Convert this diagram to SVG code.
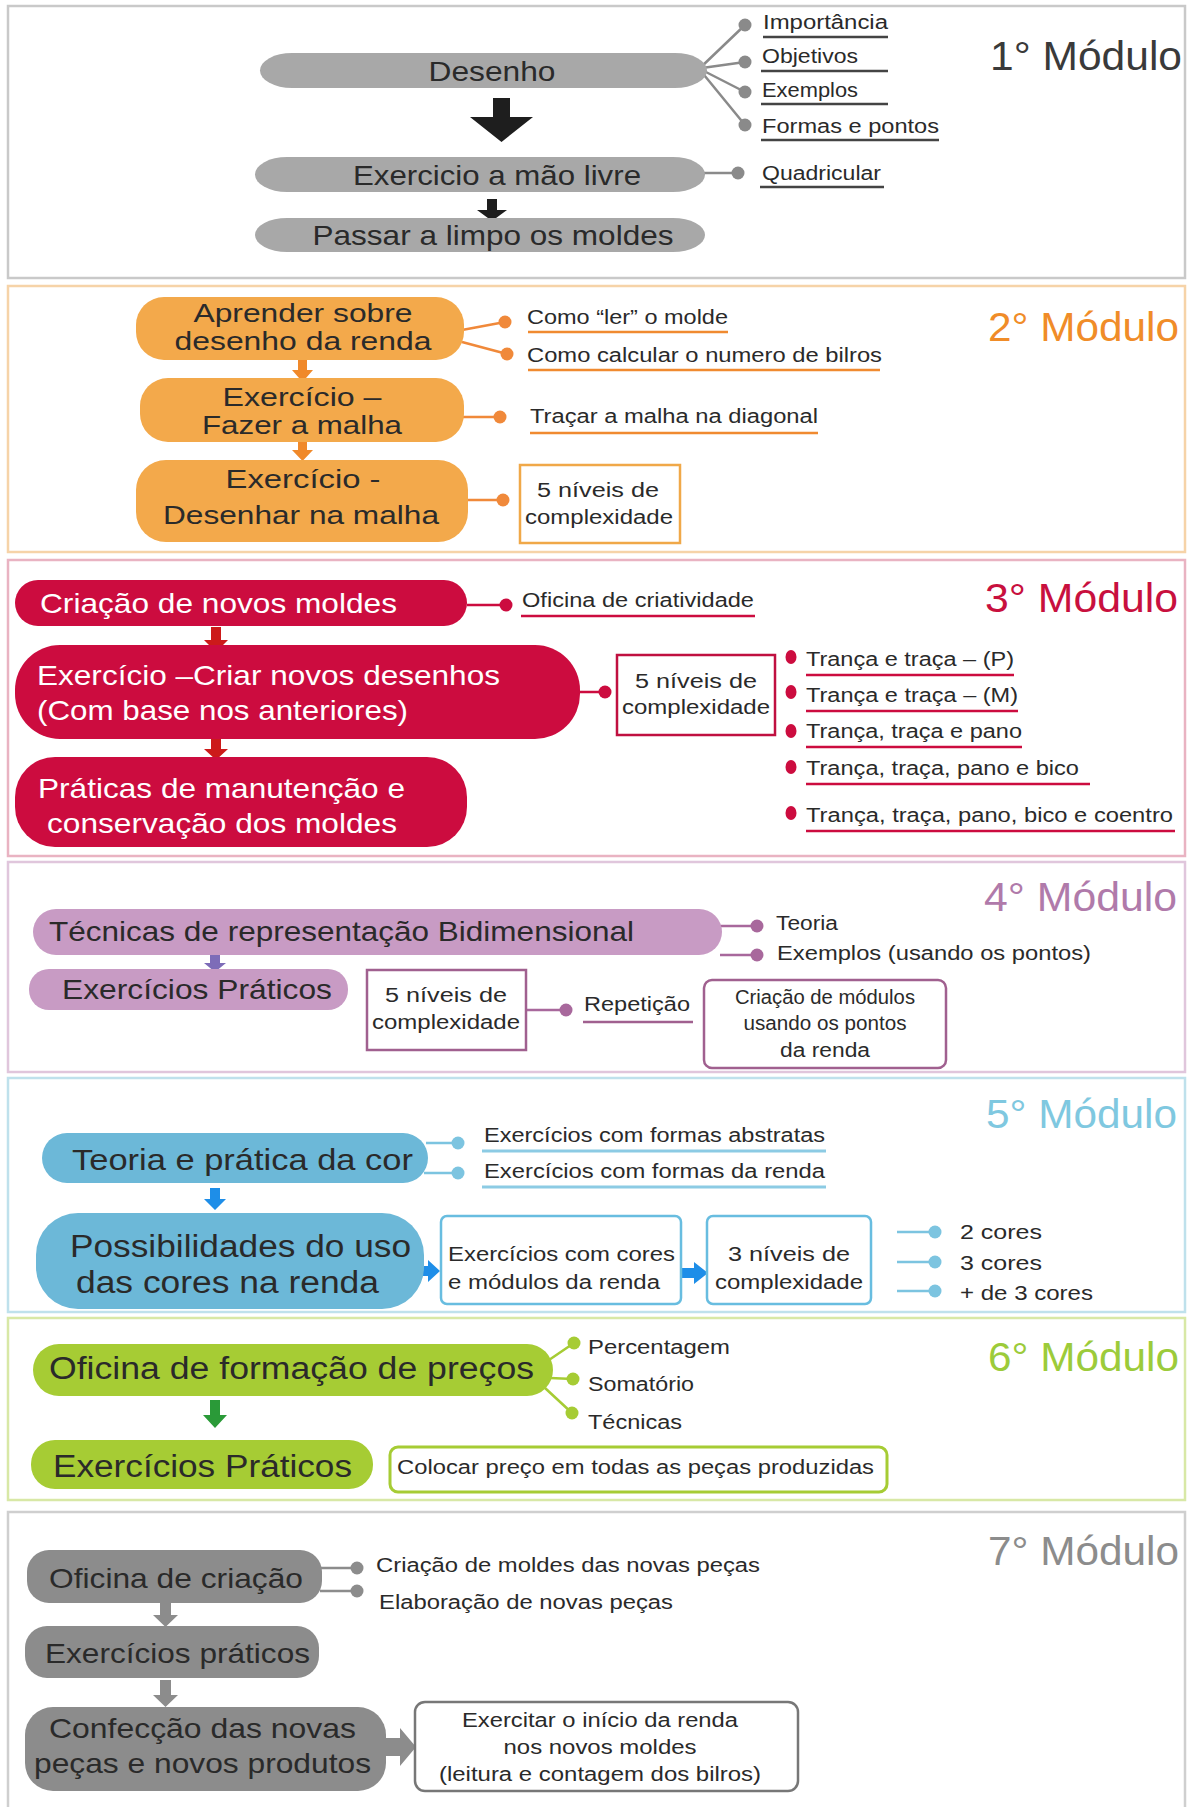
<svg xmlns="http://www.w3.org/2000/svg" width="1187" height="1807" viewBox="0 0 1187 1807">
<style>
text{font-family:"Liberation Sans",Arial,sans-serif;fill:#2a2a2a}
.pn{fill:#fff;stroke-width:2.5}
.big{font-size:28px}
.lab{font-size:20px}
.ttl{font-size:40px}
.c1{stroke:#8a8a8a;stroke-width:2.5;fill:none}
.d1{fill:#8a8a8a}
.c2{stroke:#f0893a;stroke-width:2.5;fill:none}
.d2{fill:#f0893a}
.c3{stroke:#cc0c3f;stroke-width:2.5;fill:none}
.d3{fill:#cc0c3f}
.c4{stroke:#a8689c;stroke-width:2.5;fill:none}
.d4{fill:#a8689c}
.c5{stroke:#7cc4e0;stroke-width:2.5;fill:none}
.d5{fill:#7cc4e0}
.c6{stroke:#a6cc34;stroke-width:2.5;fill:none}
.d6{fill:#a6cc34}
.c7{stroke:#8c8c8c;stroke-width:2.5;fill:none}
.d7{fill:#8c8c8c}
</style>

<!-- Panels -->
<g id="panels">
<rect class="pn" x="8" y="6" width="1177" height="272" stroke="#c9c9c9"/>
<rect class="pn" x="8" y="286" width="1177" height="266" stroke="#f6d3a8"/>
<rect class="pn" x="8" y="560" width="1177" height="296" stroke="#e9b3c2"/>
<rect class="pn" x="8" y="862" width="1177" height="210" stroke="#e0c6dc"/>
<rect class="pn" x="8" y="1078" width="1177" height="234" stroke="#bfe1ec"/>
<rect class="pn" x="8" y="1318" width="1177" height="182" stroke="#d8e8a6"/>
<rect class="pn" x="8" y="1512" width="1177" height="300" stroke="#cfcfcf"/>
</g>

<!-- Connectors -->
<g id="connectors">
<!-- Module 1 -->
<path class="c1" d="M700 68 L745 25 M702 68 L745 62 M702 70 L745 92 M700 70 L745 125 M704 173 L738 173"/>
<circle class="d1" cx="745" cy="25" r="6.5"/><circle class="d1" cx="745" cy="62" r="6.5"/>
<circle class="d1" cx="745" cy="92" r="6.5"/><circle class="d1" cx="745" cy="125" r="6.5"/>
<circle class="d1" cx="738" cy="173" r="6.5"/>
<polygon fill="#1e1e1e" points="493,98 510,98 510,117 533,117 501.5,142 470,117 493,117"/>
<polygon fill="#1e1e1e" points="487,199 497,199 497,210 507,210 492,221 477,210 487,210"/>
<!-- Module 2 -->
<path class="c2" d="M462 330 L505 322 M462 342 L507 354 M463 417 L500 417 M463 500 L503 500"/>
<circle class="d2" cx="505" cy="322" r="6.5"/><circle class="d2" cx="507" cy="354" r="6.5"/>
<circle class="d2" cx="500" cy="417" r="6.5"/><circle class="d2" cx="503" cy="500" r="6.5"/>
<polygon fill="#f0892a" points="298,359 307,359 307,370 313,370 302.5,382 292,370 298,370"/>
<polygon fill="#f0892a" points="298,440 307,440 307,450 313,450 302.5,461 292,450 298,450"/>
<!-- Module 3 -->
<path class="c3" d="M467 605 L506 605 M579 692 L605 692"/>
<circle class="d3" cx="506" cy="605" r="6.5"/><circle class="d3" cx="605" cy="692" r="6.5"/>
<ellipse class="d3" cx="791" cy="657" rx="5.5" ry="7"/><ellipse class="d3" cx="791" cy="692" rx="5.5" ry="7"/>
<ellipse class="d3" cx="791" cy="731" rx="5.5" ry="7"/><ellipse class="d3" cx="791" cy="767" rx="5.5" ry="7"/>
<ellipse class="d3" cx="791" cy="813" rx="5.5" ry="7"/>
<polygon fill="#cc1a1a" points="211,627 221,627 221,640 228,640 216,652 204,640 211,640"/>
<polygon fill="#cc1a1a" points="211,738 221,738 221,749 228,749 216,760 204,749 211,749"/>
<!-- Module 4 -->
<path class="c4" d="M718 926 L757 926 M720 955 L757 955 M526 1010 L566 1010"/>
<circle class="d4" cx="757" cy="926" r="6.5"/><circle class="d4" cx="757" cy="955" r="6.5"/>
<circle class="d4" cx="566" cy="1010" r="6.5"/>
<polygon fill="#7d6cb8" points="210,954 220,954 220,963 226,963 215,972 204,963 210,963"/>
<!-- Module 5 -->
<path class="c5" d="M426 1143 L458 1143 M424 1173 L458 1173 M897 1232 L935 1232 M897 1262 L935 1262 M897 1291 L935 1291"/>
<circle class="d5" cx="458" cy="1143" r="6.5"/><circle class="d5" cx="458" cy="1173" r="6.5"/>
<circle class="d5" cx="935" cy="1232" r="6.5"/><circle class="d5" cx="935" cy="1262" r="6.5"/>
<circle class="d5" cx="935" cy="1291" r="6.5"/>
<polygon fill="#1e8ee8" points="210,1188 220,1188 220,1199 226,1199 215,1210 204,1199 210,1199"/>
<polygon fill="#1e8ee8" points="416,1266 428,1266 428,1260 440,1271 428,1282 428,1276 416,1276"/>
<polygon fill="#1e8ee8" points="682,1268 694,1268 694,1262 708,1273 694,1284 694,1278 682,1278"/>
<!-- Module 6 -->
<path class="c6" d="M546 1362 L574 1343 M550 1378 L573 1379 M545 1388 L572 1413"/>
<circle class="d6" cx="574" cy="1343" r="6.5"/><circle class="d6" cx="573" cy="1379" r="6.5"/>
<circle class="d6" cx="572" cy="1413" r="6.5"/>
<polygon fill="#2a9a38" points="210,1400 220,1400 220,1415 227,1415 215,1428 203,1415 210,1415"/>
<!-- Module 7 -->
<path class="c7" d="M320 1568 L357 1568 M320 1591 L357 1591"/>
<circle class="d7" cx="357" cy="1568" r="6.5"/><circle class="d7" cx="357" cy="1591" r="6.5"/>
<polygon fill="#8c8c8c" points="160,1601 171,1601 171,1615 178,1615 165.5,1627 153,1615 160,1615"/>
<polygon fill="#8c8c8c" points="160,1680 171,1680 171,1695 178,1695 165.5,1707 153,1695 160,1695"/>
<polygon fill="#8c8c8c" points="384,1738 400,1738 400,1728 416,1747 400,1766 400,1756 384,1756"/>
</g>

<!-- Module 1 -->
<g id="m1-title"><text class="ttl" x="990" y="70" textLength="192" lengthAdjust="spacingAndGlyphs" style="fill:#3a3a3a">1° Módulo</text></g>
<g id="m1-desenho">
<rect x="260" y="53" width="447" height="35" rx="32" ry="17.5" fill="#a8a8a8"/>
<text class="big" x="492" y="81" text-anchor="middle" textLength="127" lengthAdjust="spacingAndGlyphs">Desenho</text>
</g>
<g id="m1-exercicio">
<rect x="255" y="157" width="450" height="35" rx="32" ry="17.5" fill="#a8a8a8"/>
<text class="big" x="497" y="185" text-anchor="middle" textLength="288" lengthAdjust="spacingAndGlyphs">Exercicio a mão livre</text>
</g>
<g id="m1-passar">
<rect x="255" y="218" width="450" height="34" rx="32" ry="17" fill="#a8a8a8"/>
<text class="big" x="493" y="245" text-anchor="middle" textLength="361" lengthAdjust="spacingAndGlyphs">Passar a limpo os moldes</text>
</g>
<g id="m1-labels">
<text class="lab" x="763" y="29" textLength="125" lengthAdjust="spacingAndGlyphs">Importância</text>
<text class="lab" x="762" y="63" textLength="96" lengthAdjust="spacingAndGlyphs">Objetivos</text>
<text class="lab" x="762" y="97" textLength="96" lengthAdjust="spacingAndGlyphs">Exemplos</text>
<text class="lab" x="762" y="133" textLength="177" lengthAdjust="spacingAndGlyphs">Formas e pontos</text>
<text class="lab" x="762" y="180" textLength="119" lengthAdjust="spacingAndGlyphs">Quadricular</text>
<path stroke="#444" stroke-width="2.5" d="M763 37 H888 M761 71 H888 M761 104 H888 M761 140 H939 M760 187 H884"/>
</g>

<!-- Module 2 -->
<g id="m2-title"><text class="ttl" x="988" y="341" textLength="191" lengthAdjust="spacingAndGlyphs" style="fill:#f08c28">2° Módulo</text></g>
<g id="m2-aprender">
<rect x="136" y="297" width="328" height="63" rx="28" fill="#f3a94b"/>
<text x="303" y="322" font-size="26" text-anchor="middle" textLength="219" lengthAdjust="spacingAndGlyphs">Aprender sobre</text>
<text x="303" y="350" font-size="26" text-anchor="middle" textLength="257" lengthAdjust="spacingAndGlyphs">desenho da renda</text>
</g>
<g id="m2-fazer">
<rect x="140" y="378" width="324" height="64" rx="28" fill="#f3a94b"/>
<text x="302" y="406" font-size="26" text-anchor="middle" textLength="159" lengthAdjust="spacingAndGlyphs">Exercício –</text>
<text x="302" y="434" font-size="26" text-anchor="middle" textLength="200" lengthAdjust="spacingAndGlyphs">Fazer a malha</text>
</g>
<g id="m2-desenhar">
<rect x="136" y="460" width="332" height="82" rx="30" fill="#f3a94b"/>
<text x="303" y="488" font-size="26" text-anchor="middle" textLength="155" lengthAdjust="spacingAndGlyphs">Exercício -</text>
<text x="301" y="524" font-size="26" text-anchor="middle" textLength="276" lengthAdjust="spacingAndGlyphs">Desenhar na malha</text>
</g>
<g id="m2-labels">
<text class="lab" x="527" y="324" textLength="201" lengthAdjust="spacingAndGlyphs">Como “ler” o molde</text>
<text class="lab" x="527" y="362" textLength="355" lengthAdjust="spacingAndGlyphs">Como calcular o numero de bilros</text>
<text class="lab" x="530" y="423" textLength="288" lengthAdjust="spacingAndGlyphs">Traçar a malha na diagonal</text>
<path stroke="#f08a30" stroke-width="2.5" d="M528 332 H728 M528 370 H880 M530 433 H818"/>
</g>
<g id="m2-niveis">
<rect x="520" y="465" width="160" height="78" fill="#fff" stroke="#f0a848" stroke-width="2.5"/>
<text class="lab" x="598" y="497" text-anchor="middle" textLength="122" lengthAdjust="spacingAndGlyphs">5 níveis  de</text>
<text class="lab" x="599" y="524" text-anchor="middle" textLength="148" lengthAdjust="spacingAndGlyphs">complexidade</text>
</g>

<!-- Module 3 -->
<g id="m3-title"><text class="ttl" x="985" y="612" textLength="193" lengthAdjust="spacingAndGlyphs" style="fill:#c8103e">3° Módulo</text></g>
<g id="m3-criacao">
<rect x="15" y="580" width="452" height="46" rx="23" fill="#cc0c3f"/>
<text class="big" x="40" y="613" textLength="357" lengthAdjust="spacingAndGlyphs" style="fill:#fff">Criação de novos moldes</text>
</g>
<g id="m3-exercicio">
<rect x="15" y="645" width="565" height="94" rx="45" fill="#cc0c3f"/>
<text class="big" x="37" y="685" textLength="463" lengthAdjust="spacingAndGlyphs" style="fill:#fff">Exercício –Criar novos desenhos</text>
<text class="big" x="37" y="720" textLength="371" lengthAdjust="spacingAndGlyphs" style="fill:#fff">(Com base nos anteriores)</text>
</g>
<g id="m3-praticas">
<rect x="15" y="757" width="452" height="90" rx="40" fill="#cc0c3f"/>
<text class="big" x="38" y="798" textLength="367" lengthAdjust="spacingAndGlyphs" style="fill:#fff">Práticas de manutenção e</text>
<text class="big" x="47" y="833" textLength="350" lengthAdjust="spacingAndGlyphs" style="fill:#fff">conservação dos moldes</text>
</g>
<g id="m3-oficina">
<text class="lab" x="522" y="607" textLength="232" lengthAdjust="spacingAndGlyphs">Oficina de criatividade</text>
<path stroke="#cc0c3f" stroke-width="2.5" d="M521 616 H755"/>
</g>
<g id="m3-niveis">
<rect x="617" y="655" width="158" height="80" fill="#fff" stroke="#c01040" stroke-width="2.5"/>
<text class="lab" x="696" y="688" text-anchor="middle" textLength="122" lengthAdjust="spacingAndGlyphs">5 níveis  de</text>
<text class="lab" x="696" y="714" text-anchor="middle" textLength="148" lengthAdjust="spacingAndGlyphs">complexidade</text>
</g>
<g id="m3-list">
<text class="lab" x="806" y="666" textLength="208" lengthAdjust="spacingAndGlyphs">Trança e traça – (P)</text>
<text class="lab" x="806" y="702" textLength="212" lengthAdjust="spacingAndGlyphs">Trança e traça – (M)</text>
<text class="lab" x="806" y="738" textLength="216" lengthAdjust="spacingAndGlyphs">Trança, traça e pano</text>
<text class="lab" x="806" y="775" textLength="273" lengthAdjust="spacingAndGlyphs">Trança, traça, pano e bico</text>
<text class="lab" x="806" y="822" textLength="367" lengthAdjust="spacingAndGlyphs">Trança, traça, pano, bico e coentro</text>
<path stroke="#cc0c3f" stroke-width="2.5" d="M806 675 H1014 M806 711 H1018 M806 747 H1022 M806 784 H1090 M806 831 H1175"/>
</g>

<!-- Module 4 -->
<g id="m4-title"><text class="ttl" x="984" y="911" textLength="193" lengthAdjust="spacingAndGlyphs" style="fill:#b07aaa">4° Módulo</text></g>
<g id="m4-tecnicas">
<rect x="33" y="909" width="689" height="46" rx="23" fill="#c89bc4"/>
<text class="big" x="49" y="941" textLength="585" lengthAdjust="spacingAndGlyphs">Técnicas de representação Bidimensional</text>
</g>
<g id="m4-exercicios">
<rect x="29" y="969" width="319" height="41" rx="20" fill="#c89bc4"/>
<text class="big" x="62" y="999" textLength="270" lengthAdjust="spacingAndGlyphs">Exercícios Práticos</text>
</g>
<g id="m4-labels">
<text class="lab" x="776" y="930" textLength="62" lengthAdjust="spacingAndGlyphs">Teoria</text>
<text class="lab" x="777" y="960" textLength="314" lengthAdjust="spacingAndGlyphs">Exemplos (usando os pontos)</text>
</g>
<g id="m4-niveis">
<rect x="367" y="970" width="159" height="80" fill="#fff" stroke="#a0608f" stroke-width="2.5"/>
<text class="lab" x="446" y="1002" text-anchor="middle" textLength="122" lengthAdjust="spacingAndGlyphs">5 níveis  de</text>
<text class="lab" x="446" y="1029" text-anchor="middle" textLength="148" lengthAdjust="spacingAndGlyphs">complexidade</text>
</g>
<g id="m4-repeticao">
<text class="lab" x="584" y="1011" textLength="106" lengthAdjust="spacingAndGlyphs">Repetição</text>
<path stroke="#a0608f" stroke-width="2.5" d="M583 1022 H693"/>
</g>
<g id="m4-criacao">
<rect x="704" y="980" width="242" height="88" rx="8" fill="#fff" stroke="#a0608f" stroke-width="2.5"/>
<text class="lab" x="825" y="1004" text-anchor="middle" textLength="180" lengthAdjust="spacingAndGlyphs">Criação de módulos</text>
<text class="lab" x="825" y="1030" text-anchor="middle" textLength="163" lengthAdjust="spacingAndGlyphs">usando os pontos</text>
<text class="lab" x="825" y="1057" text-anchor="middle" textLength="90" lengthAdjust="spacingAndGlyphs">da renda</text>
</g>

<!-- Module 5 -->
<g id="m5-title"><text class="ttl" x="986" y="1128" textLength="191" lengthAdjust="spacingAndGlyphs" style="fill:#7fc8e0">5° Módulo</text></g>
<g id="m5-teoria">
<rect x="42" y="1133" width="386" height="50" rx="25" fill="#6cb8d8"/>
<text x="72" y="1170" font-size="29" textLength="341" lengthAdjust="spacingAndGlyphs">Teoria e prática da cor</text>
</g>
<g id="m5-possibilidades">
<rect x="36" y="1213" width="388" height="96" rx="42" fill="#6cb8d8"/>
<text x="70" y="1257" font-size="31" textLength="341" lengthAdjust="spacingAndGlyphs">Possibilidades do uso</text>
<text x="76" y="1293" font-size="31" textLength="303" lengthAdjust="spacingAndGlyphs">das cores na renda</text>
</g>
<g id="m5-labels">
<text class="lab" x="484" y="1142" textLength="341" lengthAdjust="spacingAndGlyphs">Exercícios com formas abstratas</text>
<text class="lab" x="484" y="1178" textLength="341" lengthAdjust="spacingAndGlyphs">Exercícios com formas da renda</text>
<path stroke="#8ccbe4" stroke-width="3" d="M482 1151 H826 M482 1187 H826"/>
</g>
<g id="m5-cores">
<rect x="441" y="1216" width="240" height="88" rx="6" fill="#fff" stroke="#68bde0" stroke-width="2.5"/>
<text class="lab" x="448" y="1261" textLength="227" lengthAdjust="spacingAndGlyphs">Exercícios com cores</text>
<text class="lab" x="448" y="1289" textLength="212" lengthAdjust="spacingAndGlyphs">e módulos da renda</text>
</g>
<g id="m5-niveis">
<rect x="707" y="1216" width="164" height="88" rx="6" fill="#fff" stroke="#68bde0" stroke-width="2.5"/>
<text class="lab" x="789" y="1261" text-anchor="middle" textLength="122" lengthAdjust="spacingAndGlyphs">3 níveis  de</text>
<text class="lab" x="789" y="1289" text-anchor="middle" textLength="148" lengthAdjust="spacingAndGlyphs">complexidade</text>
</g>
<g id="m5-list">
<text class="lab" x="960" y="1239" textLength="82" lengthAdjust="spacingAndGlyphs">2 cores</text>
<text class="lab" x="960" y="1270" textLength="82" lengthAdjust="spacingAndGlyphs">3 cores</text>
<text class="lab" x="960" y="1300" textLength="133" lengthAdjust="spacingAndGlyphs">+ de 3 cores</text>
</g>

<!-- Module 6 -->
<g id="m6-title"><text class="ttl" x="988" y="1371" textLength="191" lengthAdjust="spacingAndGlyphs" style="fill:#9ccb3a">6° Módulo</text></g>
<g id="m6-oficina">
<rect x="33" y="1344" width="520" height="52" rx="26" fill="#a6cc34"/>
<text x="49" y="1379" font-size="31" textLength="485" lengthAdjust="spacingAndGlyphs">Oficina de formação de preços</text>
</g>
<g id="m6-labels">
<text class="lab" x="588" y="1354" textLength="142" lengthAdjust="spacingAndGlyphs">Percentagem</text>
<text class="lab" x="588" y="1391" textLength="106" lengthAdjust="spacingAndGlyphs">Somatório</text>
<text class="lab" x="588" y="1429" textLength="94" lengthAdjust="spacingAndGlyphs">Técnicas</text>
</g>
<g id="m6-exercicios">
<rect x="31" y="1440" width="342" height="49" rx="24" fill="#a6cc34"/>
<text x="53" y="1477" font-size="31" textLength="299" lengthAdjust="spacingAndGlyphs">Exercícios Práticos</text>
</g>
<g id="m6-colocar">
<rect x="390" y="1447" width="497" height="45" rx="8" fill="#fff" stroke="#a6cc34" stroke-width="3"/>
<text class="lab" x="397" y="1474" textLength="477" lengthAdjust="spacingAndGlyphs">Colocar preço em todas as peças produzidas</text>
</g>

<!-- Module 7 -->
<g id="m7-title"><text class="ttl" x="988" y="1565" textLength="191" lengthAdjust="spacingAndGlyphs" style="fill:#8c8c8c">7° Módulo</text></g>
<g id="m7-oficina">
<rect x="27" y="1550" width="295" height="53" rx="22" fill="#8c8c8c"/>
<text class="big" x="49" y="1588" textLength="254" lengthAdjust="spacingAndGlyphs">Oficina de criação</text>
</g>
<g id="m7-labels">
<text class="lab" x="376" y="1572" textLength="384" lengthAdjust="spacingAndGlyphs">Criação de moldes das novas peças</text>
<text class="lab" x="379" y="1609" textLength="294" lengthAdjust="spacingAndGlyphs">Elaboração de novas peças</text>
</g>
<g id="m7-exercicios">
<rect x="25" y="1626" width="294" height="52" rx="22" fill="#8c8c8c"/>
<text class="big" x="45" y="1663" textLength="265" lengthAdjust="spacingAndGlyphs">Exercícios práticos</text>
</g>
<g id="m7-confeccao">
<rect x="25" y="1707" width="361" height="84" rx="28" fill="#8c8c8c"/>
<text class="big" x="49" y="1738" textLength="307" lengthAdjust="spacingAndGlyphs">Confecção das novas</text>
<text class="big" x="34" y="1773" textLength="337" lengthAdjust="spacingAndGlyphs">peças e novos produtos</text>
</g>
<g id="m7-exercitar">
<rect x="415" y="1702" width="383" height="89" rx="10" fill="#fff" stroke="#777" stroke-width="2.5"/>
<text class="lab" x="600" y="1727" text-anchor="middle" textLength="276" lengthAdjust="spacingAndGlyphs">Exercitar o início da renda</text>
<text class="lab" x="600" y="1754" text-anchor="middle" textLength="193" lengthAdjust="spacingAndGlyphs">nos novos moldes</text>
<text class="lab" x="600" y="1781" text-anchor="middle" textLength="322" lengthAdjust="spacingAndGlyphs">(leitura e contagem dos bilros)</text>
</g>
</svg>
